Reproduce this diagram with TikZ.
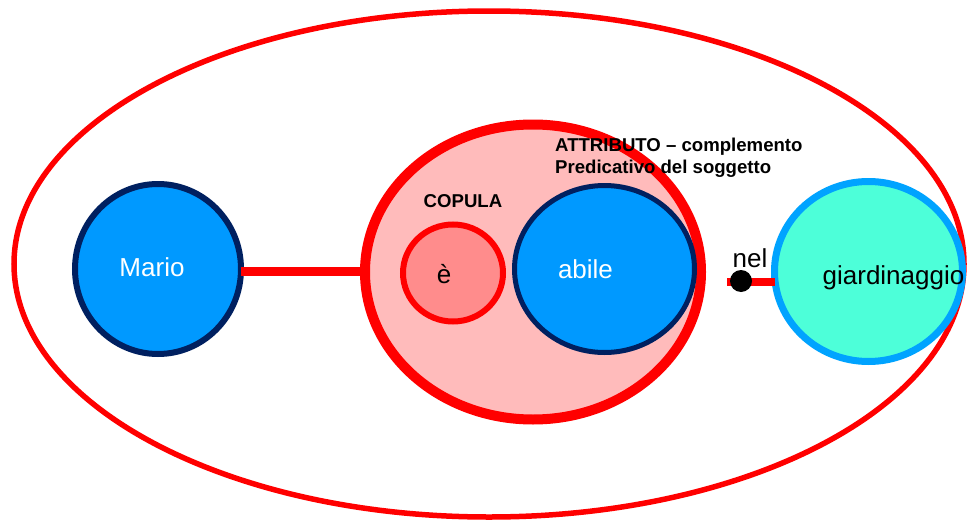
\documentclass[tikz,border=0pt]{standalone}
\usepackage{fontspec}
\setmainfont{Liberation Sans}
\usetikzlibrary{shapes.geometric}
\definecolor{redline}{RGB}{255,0,0}
\definecolor{bluefill}{RGB}{0,153,255}
\definecolor{navy}{RGB}{0,32,96}
\definecolor{pinkfill}{RGB}{255,187,187}
\definecolor{copfill}{RGB}{255,140,140}
\definecolor{aquafill}{RGB}{77,255,217}
\definecolor{cyanline}{RGB}{0,163,255}
\tikzset{
  bubble/.style={ellipse, inner sep=0pt, outer sep=0pt},
  bigtext/.style={font=\fontsize{26}{30}\selectfont},
  boldtext/.style={font=\fontsize{18.6}{22}\selectfont\bfseries},
  conn/.style={draw=redline, line width=9pt},
}
\begin{document}
\begin{tikzpicture}[x=1pt,y=-1pt]
\useasboundingbox (0,0) rectangle (967,522);
\node[bubble, draw=redline, line width=5.5pt, minimum width=950pt, minimum height=506pt] (outer) at (489,264) {};
\node[bubble, draw=navy, fill=bluefill, line width=6pt, minimum width=166pt, minimum height=170pt,
  label={[bigtext, text=white, xshift=-6pt, yshift=2pt]center:Mario}] (mario) at (158,269) {};
\node[bubble, draw=redline, fill=pinkfill, line width=10pt, minimum width=336pt, minimum height=295pt] (mid) at (533,272) {};
\node[bubble, draw=redline, fill=copfill, line width=6pt, minimum width=100pt, minimum height=97pt,
  label={[bigtext, xshift=-9pt, yshift=-1pt]center:è}] (cop) at (453,273) {};
\node[bubble, draw=navy, fill=bluefill, line width=5pt, minimum width=180pt, minimum height=167pt,
  label={[bigtext, text=white, xshift=-19pt]center:abile}] (abile) at (604.5,269) {};
\node[bubble, draw=cyanline, fill=aquafill, line width=7pt, minimum width=188pt, minimum height=180pt,
  label={[bigtext, xshift=25pt, yshift=-6pt]center:giardinaggio}] (giard) at (868.5,271.5) {};
\coordinate (mariostart) at (200,271);
\draw[conn] (mario.east |- mariostart) -- (mariostart -| mid.west);
\coordinate (nelstart) at (727,282);
\draw[conn, line width=8pt] (nelstart) -- (nelstart -| giard.west);
\node[circle, fill=black, inner sep=0pt, minimum size=22pt] (dot) at (741,281) {};
\node[bigtext, inner sep=0pt] (nel) at (750,258) {nel};
\node[boldtext, inner sep=0pt] (copula) at (463,201) {COPULA};
\node[boldtext, inner sep=0pt, align=left, anchor=north west] (attr) at (555,138) {ATTRIBUTO – complemento\\Predicativo del soggetto};
\end{tikzpicture}
\end{document}
